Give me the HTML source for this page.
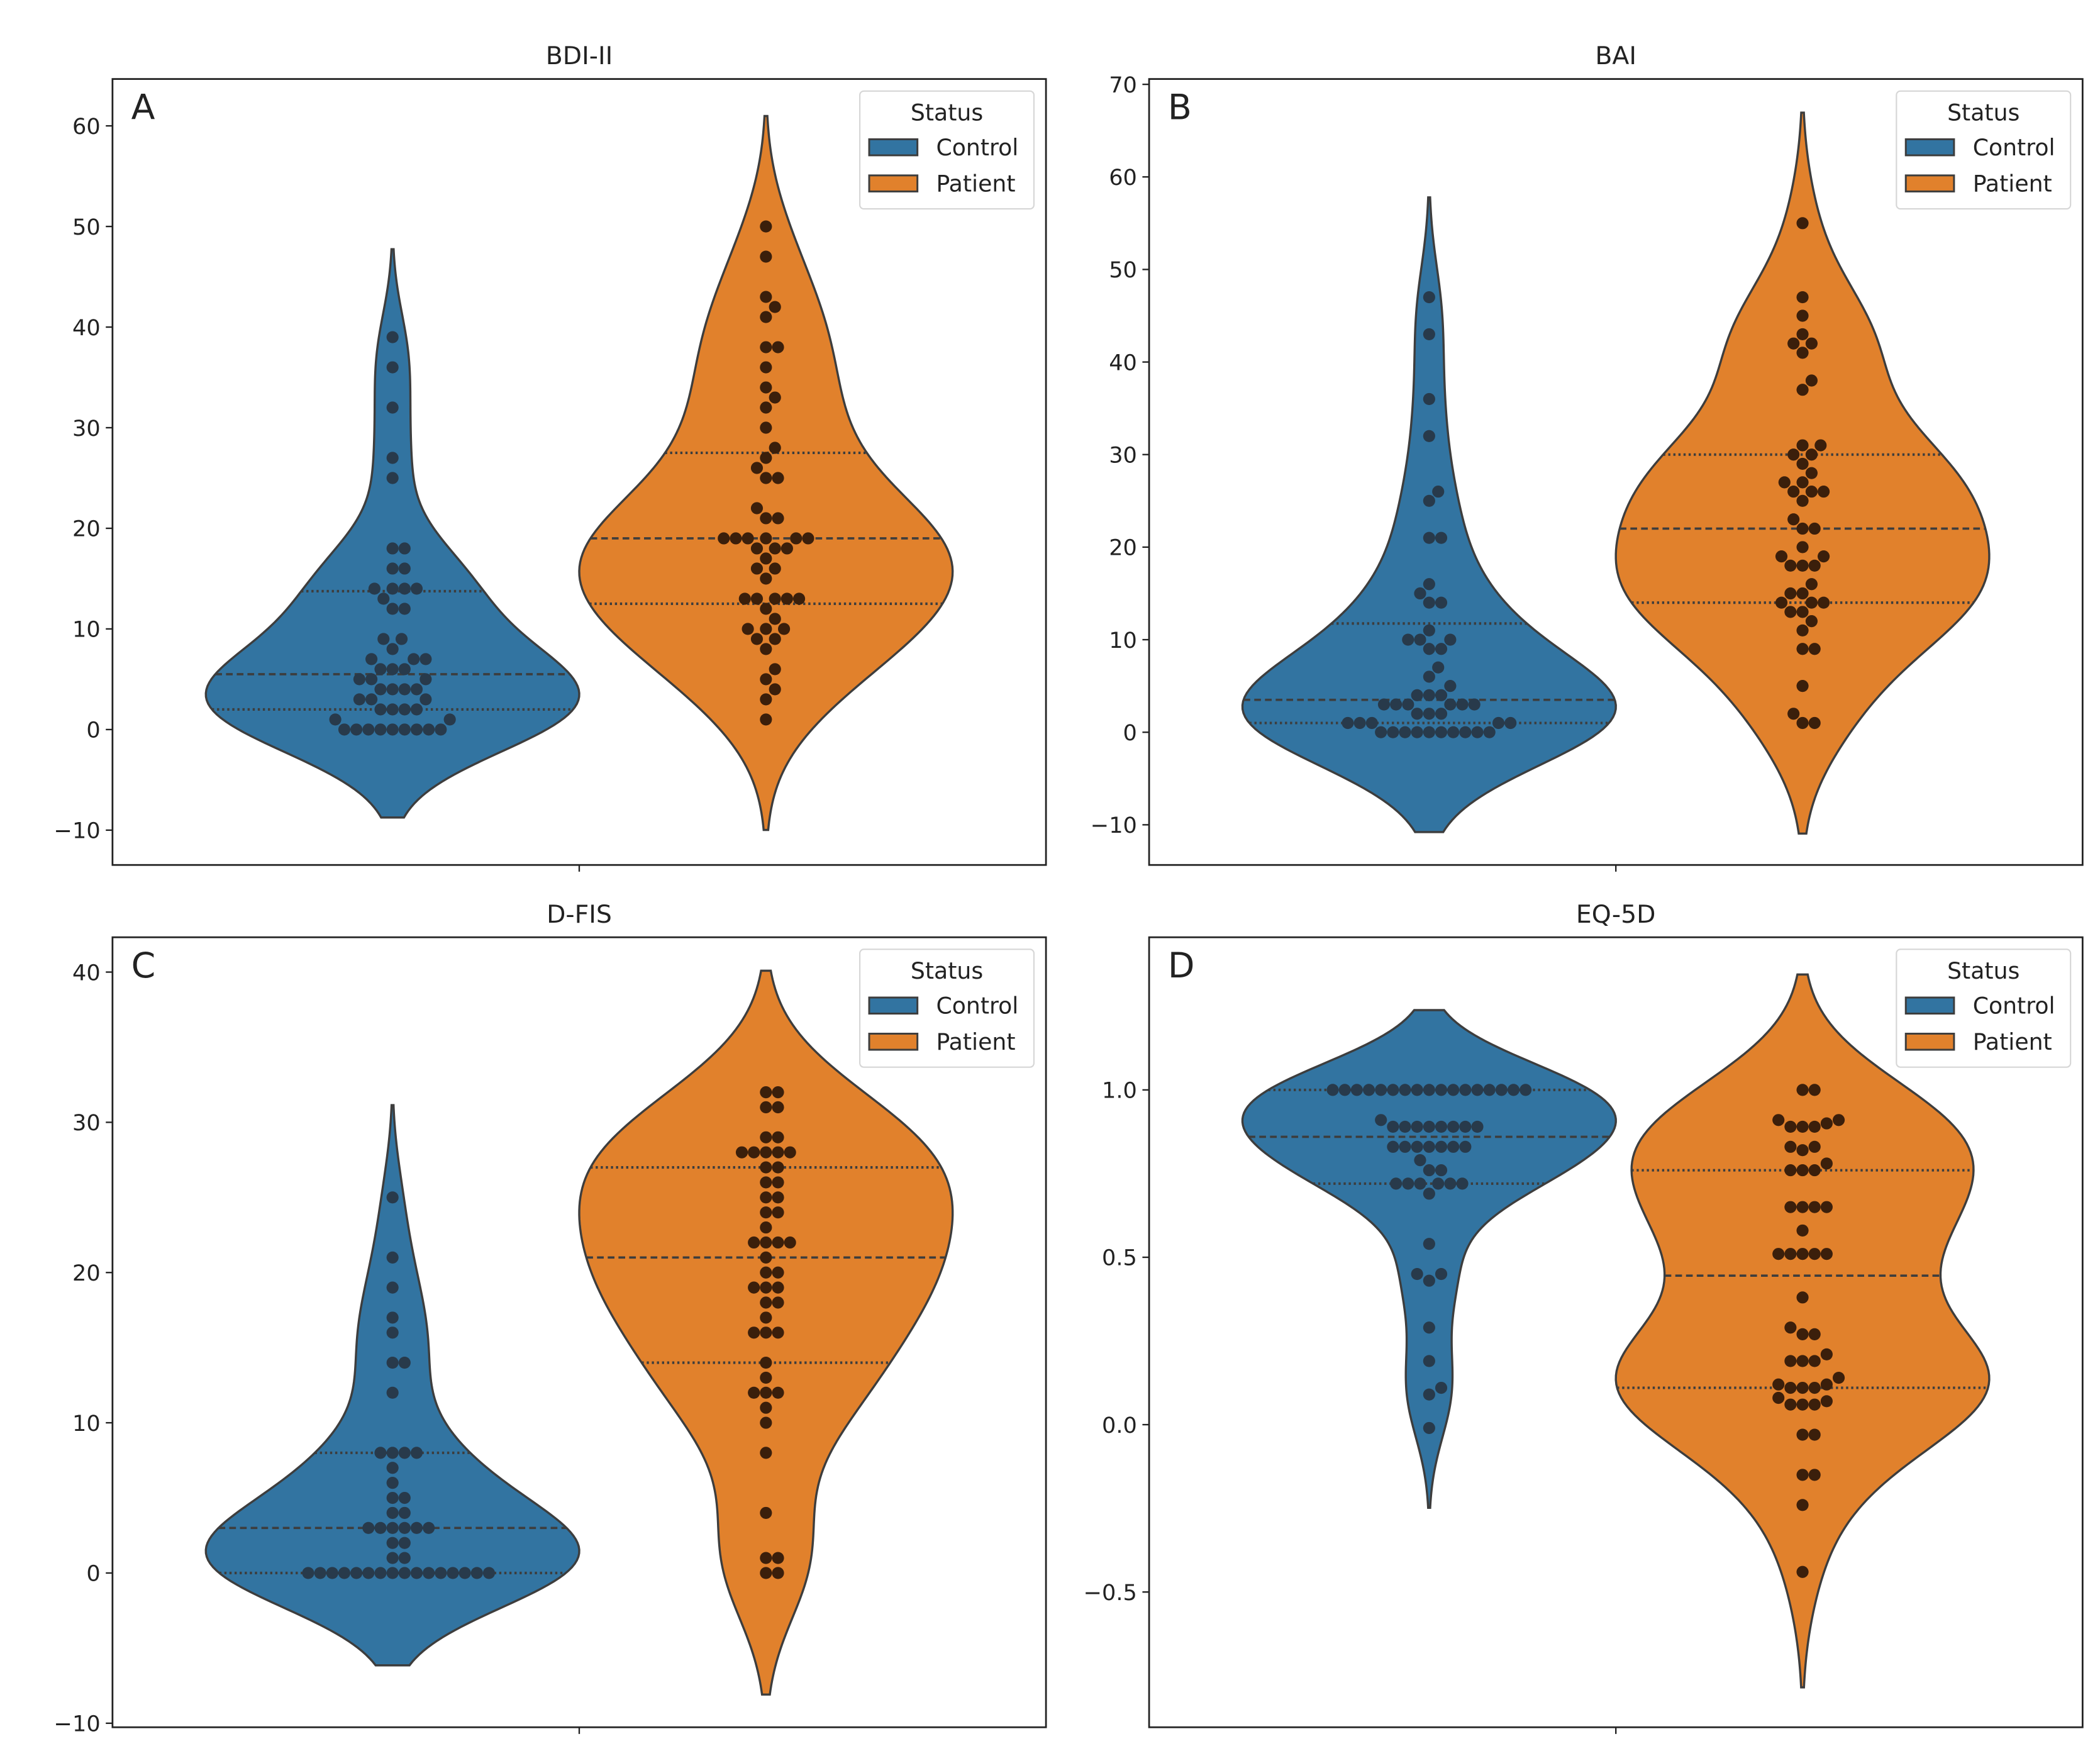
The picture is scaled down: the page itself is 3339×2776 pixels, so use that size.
<!DOCTYPE html>
<html><head><meta charset="utf-8"><style>
html,body{margin:0;padding:0;background:#fff;}
svg{display:block;}
text{font-family:"DejaVu Sans","Liberation Sans",sans-serif;fill:#222;}
</style></head><body>
<svg id="fig" width="3339" height="2776" viewBox="0 0 1568 1304" preserveAspectRatio="none" xmlns="http://www.w3.org/2000/svg"></svg>
<script>
// ---- data ----
const groups = ["Control", "Patient"];
const panelTitles = ["BDI-II", "BAI", "D-FIS", "EQ-5D"];
const panelLetters = ["A", "B", "C", "D"];
const ticksA = [-10, 0, 10, 20, 30, 40, 50, 60];
const ticksB = [-10, 0, 10, 20, 30, 40, 50, 60, 70];
const ticksC = [-10, 0, 10, 20, 30, 40];
const ticksD = [-0.5, 0.0, 0.5, 1.0];
const tickLabelsD = ["−0.5", "0.0", "0.5", "1.0"];
const bdiControl = [39,36,32,27,25,18,18,16,16,14,14,14,14,13,12,12,9,9,8,7,7,7,6,6,6,5,5,5,4,4,4,4,3,3,3,2,2,2,2,1,1,0,0,0,0,0,0,0,0,0];
const bdiPatient = [50,47,43,42,41,38,38,36,34,33,32,30,28,27,26,25,25,22,21,21,19,19,19,19,19,19,18,18,18,17,16,16,15,13,13,13,13,13,12,11,10,10,10,9,9,8,6,5,4,3,1];
const baiControl = [47,43,36,32,26,25,21,21,16,15,14,14,11,10,10,10,9,9,7,6,5,4,4,4,3,3,3,3,3,3,2,2,2,1,1,1,1,1,0,0,0,0,0,0,0,0,0,0];
const baiPatient = [55,47,45,43,42,42,41,38,37,31,31,30,30,29,28,27,27,26,26,26,25,23,22,22,20,19,19,18,18,18,16,15,15,14,14,14,13,13,12,11,9,9,5,2,1,1];
const dfisControl = [25,21,19,17,16,14,14,12,8,8,8,8,7,6,5,5,4,4,3,3,3,3,3,3,2,2,1,1,0,0,0,0,0,0,0,0,0,0,0,0,0,0,0,0];
const dfisPatient = [32,32,31,31,29,29,28,28,28,28,28,27,27,26,26,25,25,24,24,23,22,22,22,22,21,20,20,19,19,19,18,18,17,16,16,16,14,13,12,12,12,11,10,8,4,1,1,0,0];
const eqControl = [1,1,1,1,1,1,1,1,1,1,1,1,1,1,1,1,1,0.91,0.89,0.89,0.89,0.89,0.89,0.89,0.89,0.89,0.83,0.83,0.83,0.83,0.83,0.83,0.83,0.79,0.76,0.76,0.72,0.72,0.72,0.72,0.72,0.72,0.69,0.54,0.45,0.45,0.43,0.29,0.19,0.11,0.09,-0.01];
const eqPatient = [1,1,0.91,0.91,0.90,0.89,0.89,0.89,0.83,0.83,0.82,0.78,0.76,0.76,0.76,0.65,0.65,0.65,0.65,0.58,0.51,0.51,0.51,0.51,0.51,0.38,0.29,0.27,0.27,0.21,0.19,0.19,0.19,0.14,0.12,0.12,0.11,0.11,0.11,0.08,0.07,0.06,0.06,0.06,-0.03,-0.03,-0.15,-0.15,-0.24,-0.44];

const NS = "http://www.w3.org/2000/svg";
const svg = document.getElementById("fig");
function mk(tag, attrs, parent){ const e=document.createElementNS(NS,tag); for(const k in attrs) e.setAttribute(k,attrs[k]); (parent||svg).appendChild(e); return e; }

const panels = [
  {x0:84,x1:781,y0:59,y1:646,vTop:60,pTop:94,vBot:-10,pBot:620,ticks:ticksA,labels:null,data:[bdiControl,bdiPatient]},
  {x0:858,x1:1555,y0:59,y1:646,vTop:70,pTop:63,vBot:-10,pBot:616,ticks:ticksB,labels:null,data:[baiControl,baiPatient]},
  {x0:84,x1:781,y0:700,y1:1290,vTop:40,pTop:726,vBot:-10,pBot:1287,ticks:ticksC,labels:null,data:[dfisControl,dfisPatient]},
  {x0:858,x1:1555,y0:700,y1:1290,vTop:1.0,pTop:814,vBot:-0.5,pBot:1189,ticks:ticksD,labels:tickLabelsD,data:[eqControl,eqPatient]}
];
const fills = ["#3274a1","#e1812c"];
const dotFills = ["#283a4b","#3b1f0b"];

function quantile(s,q){ const p=(s.length-1)*q, lo=Math.floor(p), hi=Math.ceil(p); return s[lo]+(s[hi]-s[lo])*(p-lo); }

panels.forEach((P,pi)=>{
  const g = mk("g",{});
  
  
  const yS = v => P.pBot + (v - P.vBot)*(P.pTop-P.pBot)/(P.vTop-P.vBot);
  const mid = (P.x0+P.x1)/2;
  const span = P.x1-P.x0;
  const centers = [mid - span*0.2, mid + span*0.2];
  const maxHW = span*0.2;
  const clipId = "clip"+pi;
  const cp = mk("clipPath",{id:clipId},g);
  mk("rect",{x:P.x0,y:P.y0,width:span,height:P.y1-P.y0},cp);
  const plot = mk("g",{"clip-path":"url(#"+clipId+")"},g);

  P.data.forEach((arr,gi)=>{
    const n=arr.length, mean=arr.reduce((a,b)=>a+b,0)/n;
    const sd=Math.sqrt(arr.reduce((a,b)=>a+(b-mean)*(b-mean),0)/(n-1));
    const bw=sd*Math.pow(n,-0.2);
    const mn=Math.min(...arr), mx=Math.max(...arr);
    const lo=mn-2*bw, hi=mx+2*bw;
    const dens=v=>arr.reduce((a,x)=>a+Math.exp(-0.5*((v-x)/bw)**2),0);
    const N=160, pts=[]; let dmax=0;
    for(let i=0;i<=N;i++){ const v=lo+(hi-lo)*i/N; const d=dens(v); pts.push([v,d]); if(d>dmax)dmax=d; }
    const cx=centers[gi];
    let dStr="";
    pts.forEach((p,i)=>{ dStr+=(i?"L":"M")+(cx-maxHW*p[1]/dmax).toFixed(2)+","+yS(p[0]).toFixed(2); });
    for(let i=pts.length-1;i>=0;i--){ const p=pts[i]; dStr+="L"+(cx+maxHW*p[1]/dmax).toFixed(2)+","+yS(p[0]).toFixed(2); }
    dStr+="Z";
    const vp = mk("path",{d:dStr,fill:fills[gi],stroke:"#3d3d3d","stroke-width":1.6},plot);
    
    
    const s=[...arr].sort((a,b)=>a-b);
    [0.25,0.5,0.75].forEach(q=>{
      const v=quantile(s,q), hw=maxHW*dens(v)/dmax, y=yS(v);
      const ql = mk("line",{x1:cx-hw,x2:cx+hw,y1:y,y2:y,stroke:"#3d3d3d","stroke-width":q===0.5?1.7:1.9,"stroke-dasharray":q===0.5?"5,3":"1.6,2.2"},plot);
      
      
    });
    const r=4.5, dd=2*r*0.98;
    const placed=[];
    const order=[...arr].sort((a,b)=>a-b);
    order.forEach(v=>{
      const y=yS(v);
      let best=null;
      for(let k=0;k<80 && best===null;k++){
        const cands = k===0?[0]:[k*r*0.5,-k*r*0.5];
        for(const off of cands){
          if(placed.every(p=>Math.hypot(p[0]-off,p[1]-y)>=dd)){best=off;break;}
        }
      }
      placed.push([best,y]);
      const c = mk("circle",{cx:cx+best,cy:y,r:r,fill:dotFills[gi]},plot);
      
      
    });
  });

  const fr = mk("rect",{x:P.x0,y:P.y0,width:span,height:P.y1-P.y0,fill:"none",stroke:"#222","stroke-width":1.3},g);
  
  
  mk("line",{x1:mid,x2:mid,y1:P.y1,y2:P.y1+5,stroke:"#222","stroke-width":1.1},g);
  P.ticks.forEach((t,ti)=>{
    const y=yS(t);
    mk("line",{x1:P.x0-5,x2:P.x0,y1:y,y2:y,stroke:"#222","stroke-width":1.1},g);
    const lab = P.labels ? P.labels[ti] : String(t).replace("-","−");
    const tx = mk("text",{x:P.x0-9,y:y+6,"text-anchor":"end","font-size":16.5},g);
    tx.textContent=lab;
    
    
  });
  const ti = mk("text",{x:mid,y:P.y0-11,"text-anchor":"middle","font-size":18.5},g);
  ti.textContent=panelTitles[pi];
  
  
  const le = mk("text",{x:P.x0+14,y:P.y0+30,"font-size":26},g);
  le.textContent=panelLetters[pi];
  
  
  const lg = mk("g",{},g);
  
  
  const lx=P.x1-139, ly=P.y0+9;
  mk("rect",{x:lx,y:ly,width:130,height:88,rx:3,fill:"#fff","fill-opacity":0.85,stroke:"#d6d6d6","stroke-width":1},lg);
  const st = mk("text",{x:lx+65,y:ly+22,"text-anchor":"middle","font-size":17},lg);
  st.textContent="Status";
  groups.forEach((gname,gi)=>{
    const yy=ly+36+gi*27;
    mk("rect",{x:lx+7,y:yy,width:36,height:12,fill:fills[gi],stroke:"#3d3d3d","stroke-width":1.4},lg);
    const t=mk("text",{x:lx+57,y:yy+12,"font-size":17},lg);
    t.textContent=gname;
    
    
  });
});
</script>
</body></html>
